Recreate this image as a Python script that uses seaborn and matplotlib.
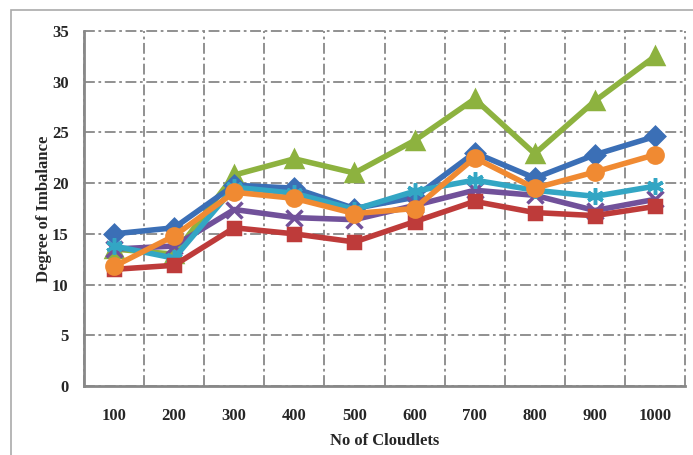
import numpy as np
import pandas as pd
import matplotlib
matplotlib.use("Agg")
import matplotlib.pyplot as plt
import seaborn as sns
from matplotlib.patches import Rectangle

categories = ["100", "200", "300", "400", "500", "600", "700", "800", "900", "1000"]
series_names = ["S1", "S2", "S3", "S4", "S5", "S6"]
s1_blue = [15.0, 15.6, 19.8, 19.5, 17.5, 18.6, 23.0, 20.5, 22.8, 24.6]
s2_red = [11.5, 11.9, 15.6, 15.0, 14.2, 16.2, 18.2, 17.1, 16.8, 17.7]
s3_green = [13.5, 13.0, 20.8, 22.4, 21.0, 24.2, 28.3, 22.9, 28.1, 32.5]
s4_purple = [13.5, 13.8, 17.4, 16.6, 16.4, 17.8, 19.3, 18.8, 17.3, 18.4]
s5_cyan = [13.8, 12.6, 19.6, 19.0, 17.4, 19.2, 20.3, 19.3, 18.7, 19.7]
s6_orange = [11.8, 14.8, 19.1, 18.5, 17.0, 17.5, 22.5, 19.5, 21.1, 22.8]

values = [s1_blue, s2_red, s3_green, s4_purple, s5_cyan, s6_orange]
rows = []
for name, vals in zip(series_names, values):
    for i, v in enumerate(vals):
        rows.append({"x": i, "y": v, "series": name})
df = pd.DataFrame(rows)

palette = {"S1": "#3B6FB6", "S2": "#BE3B3A", "S3": "#8DB23F",
           "S4": "#71519A", "S5": "#33A6C4", "S6": "#F08A32"}
markers = {"S1": "D", "S2": "s", "S3": "^", "S4": "x", "S5": (6, 2, 0), "S6": "o"}
msizes = {"S1": 9, "S2": 9, "S3": 11, "S4": 11, "S5": 12, "S6": 11}
order = ["S3", "S1", "S4", "S5", "S2", "S6"]

sns.set_style("white")
plt.rcParams["font.family"] = ["Liberation Serif", "DejaVu Serif"]

fig = plt.figure(figsize=(6.93, 4.55), dpi=100)
ax = fig.add_axes([84/693, 1-386/455, (685-84)/693, (386-31)/455])

# outer frame
fig.patches.append(Rectangle((11/693, -0.1), 1.5, 1.1-10/455, transform=fig.transFigure,
                             fill=False, edgecolor="#aaaaaa", linewidth=1.2))

for k, name in enumerate(order):
    sub = df[df["series"] == name]
    sns.lineplot(data=sub, x="x", y="y", color=palette[name], marker=markers[name],
                 linewidth=4, markersize=msizes[name], markeredgewidth=2.5,
                 markeredgecolor=palette[name], ax=ax, legend=False, zorder=3 + k)

ax.set_xlim(-0.5, 9.5)
ax.set_ylim(0, 35)
ax.set_xticks(range(10))
ax.set_xticklabels(categories)
ax.set_xticks(np.arange(-0.5, 10, 1), minor=True)
ax.set_yticks(range(0, 36, 5))
ax.tick_params(axis="x", which="major", length=0, pad=16)
ax.tick_params(axis="x", which="minor", length=5, width=1.2, color="#888888", direction="out")
ax.tick_params(axis="y", length=5, width=1.2, color="#888888", direction="out", pad=6)
for lab in ax.get_xticklabels() + ax.get_yticklabels():
    lab.set_fontweight("bold")
    lab.set_fontsize(12)

gridkw = dict(color="#888888", linestyle=(0, (6, 2, 1.5, 2)), linewidth=1.3)
ax.grid(False)
ax.yaxis.grid(True, which="major", **gridkw)
ax.xaxis.grid(True, which="minor", **gridkw)
for t in ax.xaxis.get_minor_ticks() + ax.yaxis.get_major_ticks():
    t.gridline.set_clip_on(False)
ax.set_axisbelow(True)

for side in ["top", "right"]:
    ax.spines[side].set_visible(False)
for side in ["left", "bottom"]:
    ax.spines[side].set_color("#888888")
    ax.spines[side].set_linewidth(2)

ax.set_xlabel("No of Cloudlets", fontsize=12, fontweight="bold", labelpad=6)
ax.set_ylabel("Degree of Imbalance", fontsize=12, fontweight="bold", labelpad=0)

fig.savefig("out.png", dpi=100)
